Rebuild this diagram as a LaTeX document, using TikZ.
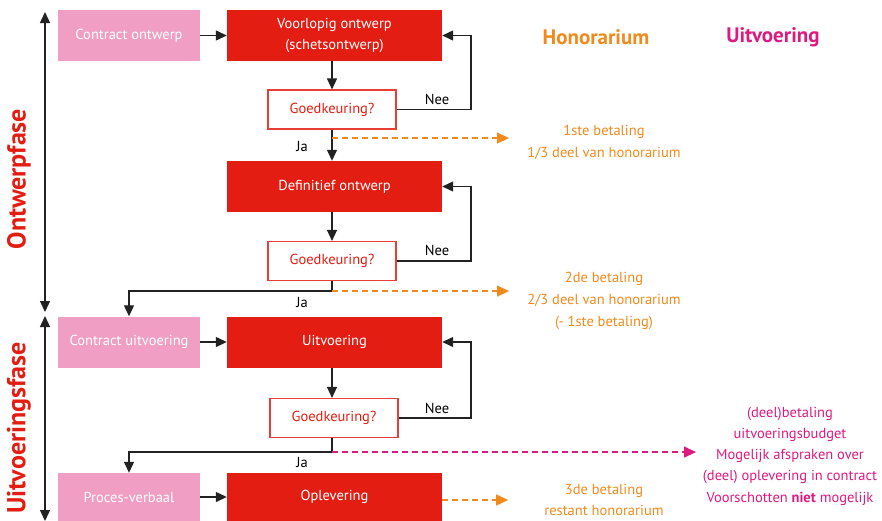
\documentclass[tikz,border=0pt]{standalone}
\usepackage{fontspec}
\setmainfont{PT Sans}
\usetikzlibrary{arrows.meta,calc}
\definecolor{cred}{HTML}{E31D12}
\definecolor{cpink}{HTML}{F09EC4}
\definecolor{corange}{HTML}{F18A1C}
\definecolor{cmag}{HTML}{DC1A80}
\definecolor{cline}{HTML}{222222}
\begin{document}
\begin{tikzpicture}[x=1pt,y=-1pt,
  redbox/.style={fill=cred,draw=none,text=white,minimum width=215pt,minimum height=51pt,inner sep=0pt,align=center,font=\fontsize{14.5}{20.5}\selectfont},
  pinkbox/.style={fill=cpink,draw=none,text=white,minimum width=142pt,minimum height=51pt,inner sep=0pt,align=center,font=\fontsize{14.5}{17}\selectfont},
  okbox/.style={fill=white,draw=cred!85!white,line width=1.1pt,text=cred,minimum width=128pt,minimum height=39pt,inner sep=0pt,font=\fontsize{14.5}{17}\selectfont},
  conn/.style={draw=cline,line width=1.3pt,-{Triangle[length=11pt,width=10pt]}},
  loopline/.style={draw=cline,line width=1.2pt,-{Triangle[length=11pt,width=10pt]}},
  odash/.style={draw=corange,line width=1.2pt,dash pattern=on 6pt off 4pt,-{Triangle[length=12pt,width=11pt,fill=corange]}},
  mdash/.style={draw=cmag,line width=1.2pt,dash pattern=on 6pt off 4pt,-{Triangle[length=12pt,width=11pt,fill=cmag]}},
  lbl/.style={text=black,font=\fontsize{14.5}{17}\selectfont,inner sep=0pt},
  otext/.style={text=corange,align=center,font=\fontsize{14.5}{21.8}\selectfont,inner sep=0pt},
  mtext/.style={text=cmag,align=center,font=\fontsize{14.5}{21.25}\selectfont,inner sep=0pt},
  phase/.style={text=cred,rotate=90,font=\fontsize{26}{28}\bfseries\selectfont,inner sep=0pt},
  phasearrow/.style={draw=cline,line width=1.3pt,{Triangle[length=11pt,width=10pt]}-{Triangle[length=11pt,width=10pt]}}
]
\useasboundingbox (0,0) rectangle (882,520);

% boxes
\node[pinkbox] (co) at (129,35.5) {Contract ontwerp};
\node[redbox] (vo) at (334.5,35.5) {Voorlopig ontwerp\\(schetsontwerp)};
\node[okbox] (g1) at (332,109.5) {Goedkeuring?};
\node[redbox] (do) at (334.5,186.5) {Definitief ontwerp};
\node[okbox] (g2) at (332,261) {Goedkeuring?};
\node[pinkbox] (cu) at (129,342) {Contract uitvoering};
\node[redbox] (uv) at (334.5,342) {Uitvoering};
\node[okbox] (g3) at (334,418) {Goedkeuring?};
\node[pinkbox,minimum height=48pt] (pv) at (129,497) {Proces-verbaal};
\node[redbox,minimum height=48pt] (op) at (334.5,497) {Oplevering};

% headers
\node[text=corange,font=\fontsize{21}{24}\bfseries\selectfont] (hh) at (596,37.5) {Honorarium};
\node[text=cmag,font=\fontsize{21}{24}\bfseries\selectfont] (hu) at (773,37.5) {Uitvoering};

% phase labels and arrows
\node[phase] (pon) at (19,179) {Ontwerpfase};
\node[phase] (puv) at (19,428) {Uitvoeringsfase};
\coordinate (a1) at (45,12);
\coordinate (a2) at (45,312);
\coordinate (a3) at (45,316);
\coordinate (a4) at (45,521);
\draw[phasearrow] (a1) -- (a2);
\draw[phasearrow] (a3) -- (a4);

% pink -> red
\draw[conn] (co) -- (vo);
\draw[conn] (cu) -- (uv);
\draw[conn] (pv) -- (op);

% main vertical flow
\draw[conn] (g1.north |- vo.south) -- (g1.north);
\draw[conn] (g1.south) -- (g1.south |- do.north);
\draw[conn] (g2.north |- do.south) -- (g2.north);
\draw[conn] (g2.north |- uv.south) -- (g2.north |- g3.north);

% loops back (Nee)
\coordinate (lx) at (471,0);
\draw[loopline] (g1.east) -- (g1.east -| lx) |- (vo.east);
\draw[loopline] (g2.east) -- (g2.east -| lx) |- (do.east);
\draw[loopline] (g3.east) -- (g3.east -| lx) |- (uv.east);
\node[lbl] (n1) at (437,99) {Nee};
\node[lbl] (n2) at (437,250) {Nee};
\node[lbl] (n3) at (437,408) {Nee};

% Ja paths
\draw[conn] (g2.south) -- ++(0,10) -| (cu.north);
\draw[conn] (g2.south |- g3.south) -- ++(0,14) -| (pv.north);
\node[lbl] (j1) at (302,146) {Ja};
\node[lbl] (j2) at (302,302) {Ja};
\node[lbl] (j3) at (302,462) {Ja};

% payments
\node[otext] (p1) at (604,142) {1ste betaling\\1/3 deel van honorarium};
\node[otext] (p2) at (604,301) {2de betaling\\2/3 deel van honorarium\\(- 1ste betaling)};
\node[otext] (p3) at (604,500) {3de betaling\\restant honorarium};
\node[mtext] (p4) at (790,456) {(deel)betaling\\uitvoeringsbudget\\Mogelijk afspraken over\\(deel) oplevering in contract\\Voorschotten \textbf{niet} mogelijk};

\draw[odash] ($(g1.south)+(0,8.5)$) -- ++(177,0);
\draw[odash] ($(g2.south)+(0,10)$) -- ++(177,0);
\draw[mdash] ($(g2.south |- g3.south)+(0,14)$) -- ++(364,0);
\draw[odash] ($(op.east)+(0,3)$) -- ++(66,0);
\end{tikzpicture}
\end{document}
